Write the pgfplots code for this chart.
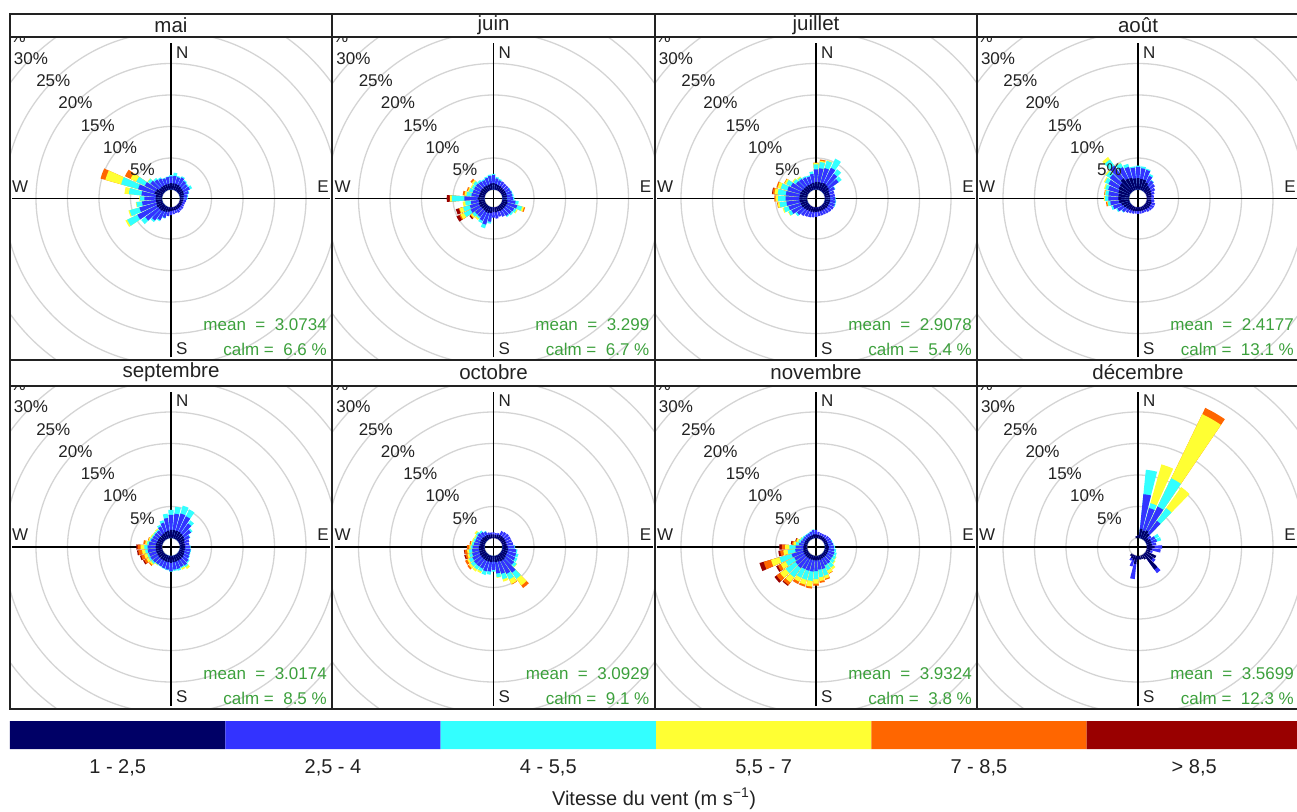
\documentclass[border=0pt]{standalone}
\usepackage{fontspec}
\setmainfont{Liberation Sans}
\usepackage{pgfplots}
\usepackage{pgfplotstable}
\pgfplotsset{compat=1.18}
\definecolor{c1}{RGB}{0,0,102}
\definecolor{c2}{RGB}{51,51,255}
\definecolor{c3}{RGB}{51,255,255}
\definecolor{c4}{RGB}{255,255,51}
\definecolor{c5}{RGB}{255,102,0}
\definecolor{c6}{RGB}{153,0,0}
\definecolor{gridc}{RGB}{212,212,212}
\definecolor{meangreen}{RGB}{60,160,60}
\definecolor{txt}{RGB}{34,34,34}
\newcommand\fA{\fontsize{17}{20}\selectfont}
\newcommand\fT{\fontsize{20.5}{24}\selectfont}
\newcommand\fL{\fontsize{20}{24}\selectfont}

% wedge-shaped mark: petal of a wind rose, drawn from the centre outwards
\pgfdeclareplotmark{petal}{%
  \pgfmathtruncatemacro\pok{(\pval>0.001)}%
  \ifnum\pok>0
    \pgfmathsetmacro\pa{90-\pdir-4.2}%
    \pgfmathsetmacro\pb{90-\pdir+4.2}%
    \pgfmathsetmacro\pr{9+6.3*\pcum}%
    \pgfpathmoveto{\pgfpointpolar{\pa}{9pt}}%
    \pgfpathlineto{\pgfpointpolar{\pa}{\pr pt}}%
    \pgfpatharc{\pa}{\pb}{\pr pt}%
    \pgfpathlineto{\pgfpointpolar{\pb}{9pt}}%
    \pgfpatharc{\pb}{\pa}{9pt}%
    \pgfpathclose
    \pgfusepathqfill
  \fi}

\pgfplotsset{
  rose/.style={scale only axis, width=322pt, height=323pt,
    xmin=-161, xmax=161, ymin=-161.5, ymax=161.5, hide axis, anchor=center, clip=true},
  petals/.style={scatter, only marks, mark=petal, point meta=\thisrow{d},
    visualization depends on={\thisrow{d}\as\pdir},
    scatter/@pre marker code/.code={\scope[fill=#1]},
    scatter/@post marker code/.code={\endscope}},
}

\newcommand\rose[1]{%
  \addplot[petals=c6,
    visualization depends on={\thisrow{n1}+\thisrow{n2}+\thisrow{n3}+\thisrow{n4}+\thisrow{n5}+\thisrow{n6}\as\pcum},
    visualization depends on={\thisrow{n6}\as\pval}] table[x expr=0,y expr=0]{#1};
  \addplot[petals=c5,
    visualization depends on={\thisrow{n1}+\thisrow{n2}+\thisrow{n3}+\thisrow{n4}+\thisrow{n5}\as\pcum},
    visualization depends on={\thisrow{n5}\as\pval}] table[x expr=0,y expr=0]{#1};
  \addplot[petals=c4,
    visualization depends on={\thisrow{n1}+\thisrow{n2}+\thisrow{n3}+\thisrow{n4}\as\pcum},
    visualization depends on={\thisrow{n4}\as\pval}] table[x expr=0,y expr=0]{#1};
  \addplot[petals=c3,
    visualization depends on={\thisrow{n1}+\thisrow{n2}+\thisrow{n3}\as\pcum},
    visualization depends on={\thisrow{n3}\as\pval}] table[x expr=0,y expr=0]{#1};
  \addplot[petals=c2,
    visualization depends on={\thisrow{n1}+\thisrow{n2}\as\pcum},
    visualization depends on={\thisrow{n2}\as\pval}] table[x expr=0,y expr=0]{#1};
  \addplot[petals=c1,
    visualization depends on={\thisrow{n1}\as\pcum},
    visualization depends on={\thisrow{n1}\as\pval}] table[x expr=0,y expr=0]{#1};
}

% #1 cx, #2 cy, #3 table, #4 mean, #5 calm
\newcommand\panel[5]{%
\begin{axis}[rose, at={(#1pt,#2pt)}]
  \draw[gridc, line width=1.3pt] (axis cs:0,0) circle[radius=9pt] circle[radius=40.5pt]
    circle[radius=72pt] circle[radius=103.5pt] circle[radius=135pt] circle[radius=166.5pt]
    circle[radius=198pt] circle[radius=229.5pt];
  \draw[black, line width=1.3pt] (axis cs:0,-159) -- (axis cs:0,155);
  \draw[black, line width=1.3pt] (axis cs:-159,0) -- (axis cs:159,0);
  \node[inner sep=0pt, text=txt, font=\fA] at (axis cs:-162.3,162.3) {35\%};
  \rose{#3}
\end{axis}
\begin{scope}[shift={(#1pt,#2pt)}, every node/.style={inner sep=0pt, text=txt, font=\fA}]
  \node at (-28.6pt,28.6pt) {5\%};
  \node at (-50.9pt,50.9pt) {10\%};
  \node at (-73.2pt,73.2pt) {15\%};
  \node at (-95.5pt,95.5pt) {20\%};
  \node at (-117.7pt,117.7pt) {25\%};
  \node at (-140.0pt,140.0pt) {30\%};
  \node[anchor=west] at (5pt,146pt) {N};
  \node[anchor=west] at (5pt,-150pt) {S};
  \node[anchor=east] at (158pt,12pt) {E};
  \node[anchor=west] at (-159pt,12pt) {W};
  \node[anchor=east, text=meangreen] at (156pt,-126.5pt) {mean\ \ =\ \ #4};
  \node[anchor=east, text=meangreen] at (156pt,-151pt) {calm =\ \ #5\ \%};
\end{scope}}

\pgfplotstableread{
d n1 n2 n3 n4 n5 n6
0 1.0 1.1 0.2 0 0 0
10 1.0 1.2 0.5 0 0 0
20 1.0 1.1 0.2 0 0 0
30 1.0 1.3 0.2 0 0 0
40 0.9 1.1 0.2 0 0 0
50 0.8 1.0 0.2 0 0 0
60 0.8 1.1 0.4 0 0 0
70 0.7 0.8 0.1 0 0 0
80 0.6 0.6 0.1 0 0 0
90 0.6 0.5 0.1 0 0 0
100 0.5 0.5 0 0 0 0
110 0.5 0.4 0 0 0 0
120 0.5 0.4 0 0 0 0
130 0.5 0.5 0 0 0 0
140 0.5 0.5 0 0 0 0
150 0.5 0.6 0 0 0 0
160 0.5 0.5 0 0 0 0
170 0.5 0.6 0 0 0 0
180 0.6 0.6 0 0 0 0
190 0.7 0.7 0 0 0 0
200 0.8 1.0 0.1 0 0 0
210 0.9 1.5 0.2 0 0 0
220 1.0 1.9 0.3 0 0 0
230 1.0 2.6 0.8 0 0 0
240 1.1 3.4 1.8 0.3 0 0
250 1.0 2.8 1.6 0.2 0 0
260 1.0 2.2 0.9 0.1 0 0
270 1.0 1.8 0.7 0.1 0 0
280 1.0 2.3 2.0 0.7 0 0
290 1.3 2.7 2.8 2.6 0.8 0
300 1.2 2.0 1.5 1.0 1.0 0
310 0.9 1.7 0.5 0.1 0 0
320 0.9 1.4 0.3 0 0 0
330 0.9 1.2 0.2 0 0 0
340 0.9 1.0 0.1 0 0 0
350 0.9 1.1 0.1 0 0 0
}\tmai

\pgfplotstableread{
d n1 n2 n3 n4 n5 n6
0 1.0 1.3 0.2 0 0 0
10 0.9 0.9 0.2 0 0 0
20 0.8 0.8 0.2 0 0 0
30 0.8 0.8 0 0 0 0
40 0.7 0.8 0 0 0 0
50 0.7 0.8 0 0 0 0
60 0.7 0.8 0.1 0 0 0
70 0.7 0.9 0.1 0 0 0
80 0.7 0.9 0.2 0 0 0
90 0.7 1.0 0.2 0 0 0
100 0.8 1.3 0.5 0 0 0
110 0.9 1.6 0.8 0.3 0.2 0
120 0.8 1.4 0.4 0.2 0 0
130 0.8 1.3 0.3 0 0 0
140 0.8 1.2 0.2 0 0 0
150 0.8 1.0 0 0 0 0
160 0.7 0.9 0 0 0 0
170 0.8 1.0 0 0 0 0
180 0.7 0.9 0 0 0 0
190 0.9 1.4 0.3 0 0 0
200 1.0 1.9 0.6 0 0 0
210 1.0 1.5 0.4 0 0 0
220 0.9 1.3 0.3 0.3 0 0
230 0.9 1.3 0.5 0.3 0.1 0.2
240 1.0 1.6 1.2 0.6 0.2 0.5
250 1.0 1.5 1.1 0.6 0.1 0.5
260 0.9 1.3 0.9 0.4 0 0
270 1.1 2.1 2.0 0.3 0 0.5
280 0.9 1.2 0.8 0.3 0.3 0
290 0.9 1.1 0.6 0.2 0.2 0
300 0.9 1.1 0.4 0.2 0 0
310 0.9 1.1 0.5 0.3 0.3 0
320 0.9 1.0 0.3 0 0 0
330 0.9 0.9 0.2 0 0 0
340 0.9 1.1 0.2 0 0 0
350 1.0 1.2 0.2 0 0 0
}\tjuin

\pgfplotstableread{
d n1 n2 n3 n4 n5 n6
0 1.2 2.0 0.8 0.2 0.1 0
10 1.2 2.2 1.0 0.2 0.2 0
20 1.2 2.4 1.2 0.1 0 0
30 1.3 2.7 1.6 0 0 0
40 1.2 2.2 0.9 0 0 0
50 1.1 1.9 0.6 0 0 0
60 0.9 1.0 0.1 0 0 0
70 0.8 0.8 0 0 0 0
80 0.8 0.8 0 0 0 0
90 0.8 0.8 0.1 0 0 0
100 0.8 0.9 0.1 0 0 0
110 0.8 0.9 0.1 0 0 0
120 0.8 0.9 0 0 0 0
130 0.8 0.8 0 0 0 0
140 0.7 0.8 0 0 0 0
150 0.7 0.7 0 0 0 0
160 0.7 0.7 0 0 0 0
170 0.7 0.7 0 0 0 0
180 0.7 0.8 0 0 0 0
190 0.8 0.8 0 0 0 0
200 0.8 0.9 0 0 0 0
210 0.8 1.0 0 0 0 0
220 0.9 1.1 0 0 0 0
230 1.0 1.3 0.3 0 0 0
240 1.1 1.8 0.5 0.1 0 0
250 1.1 2.0 0.8 0.2 0 0
260 1.2 2.1 1.1 0.3 0.1 0
270 1.2 2.2 1.2 0.4 0.2 0
280 1.2 2.2 1.3 0.5 0.3 0.1
290 1.2 2.1 1.1 0.5 0.2 0
300 1.1 1.9 0.8 0.3 0.1 0
310 1.0 1.5 0.5 0.2 0 0
320 1.0 1.4 0.3 0.2 0 0
330 1.0 1.3 0.2 0 0 0
340 1.0 1.2 0.2 0 0 0
350 1.1 1.4 0.4 0 0 0
}\tjuil

\pgfplotstableread{
d n1 n2 n3 n4 n5 n6
0 1.8 1.8 0.2 0 0 0
10 1.7 1.7 0.3 0 0 0
20 1.7 1.6 0.2 0 0 0
30 1.4 1.2 0.3 0 0 0
40 1.1 1.0 0.1 0 0 0
50 1.0 0.9 0 0 0 0
60 0.9 0.7 0 0 0 0
70 0.8 0.5 0 0 0 0
80 0.7 0.4 0 0 0 0
90 0.7 0.4 0 0 0 0
100 0.7 0.5 0 0 0 0
110 0.8 0.6 0 0 0 0
120 0.8 0.6 0 0 0 0
130 0.8 0.5 0 0 0 0
140 0.7 0.5 0 0 0 0
150 0.6 0.4 0 0 0 0
160 0.6 0.4 0 0 0 0
170 0.6 0.4 0 0 0 0
180 0.6 0.4 0 0 0 0
190 0.6 0.4 0 0 0 0
200 0.7 0.4 0 0 0 0
210 0.7 0.5 0 0 0 0
220 0.8 0.6 0 0 0 0
230 0.9 0.8 0.1 0 0 0
240 1.1 1.1 0.2 0 0 0
250 1.3 1.4 0.3 0 0 0
260 1.6 1.4 0.4 0.1 0.2 0
270 1.7 1.6 0.5 0.2 0 0
280 1.7 1.6 0.5 0.1 0.1 0
290 1.8 1.7 0.5 0.2 0 0
300 2.0 1.8 0.6 0.2 0 0
310 2.1 2.0 0.7 0.2 0 0
320 2.5 2.5 1.2 0.5 0 0
330 2.1 2.0 0.7 0.1 0 0
340 2.0 1.8 0.5 0 0 0
350 1.8 1.7 0.2 0 0 0
}\taout

\pgfplotstableread{
d n1 n2 n3 n4 n5 n6
0 1.3 2.4 0.8 0 0 0
10 1.3 2.6 1.1 0 0 0
20 1.3 2.8 1.3 0 0 0
30 1.3 2.7 1.2 0 0 0
40 1.2 2.0 0.6 0 0 0
50 1.1 1.4 0.3 0 0 0
60 1.0 0.9 0.1 0 0 0
70 0.8 0.8 0 0 0 0
80 0.8 0.7 0 0 0 0
90 0.8 0.8 0.1 0 0 0
100 0.8 0.9 0.1 0 0 0
110 0.8 0.9 0.1 0 0 0
120 0.9 0.9 0.1 0 0 0
130 1.0 1.0 0.2 0 0 0
140 1.0 1.2 0.3 0.4 0 0
150 1.0 1.1 0.2 0.3 0 0
160 1.0 1.2 0.3 0 0 0
170 1.0 1.2 0.2 0 0 0
180 1.1 1.3 0.1 0 0 0
190 1.0 1.2 0.1 0 0 0
200 1.0 1.1 0.1 0 0 0
210 1.0 1.0 0.1 0 0 0
220 1.0 1.0 0.1 0.1 0 0
230 1.0 1.1 0.3 0.3 0.2 0
240 1.0 1.2 0.3 0.4 0.4 0.2
250 1.0 1.2 0.3 0.5 0.5 0.2
260 1.0 1.3 0.4 0.5 0.6 0.2
270 1.0 1.3 0.5 0.6 0.5 0.2
280 1.0 1.1 0.3 0.3 0.3 0
290 0.9 1.0 0.2 0.2 0.1 0
300 0.9 0.9 0.2 0.2 0 0
310 0.9 0.9 0.2 0.1 0 0
320 0.9 0.9 0.2 0.2 0 0
330 1.0 1.2 0.3 0 0 0
340 1.1 1.5 0.4 0 0 0
350 1.2 2.0 0.7 0 0 0
}\tsep

\pgfplotstableread{
d n1 n2 n3 n4 n5 n6
0 0.6 0.3 0 0 0 0
10 0.5 0.3 0 0 0 0
20 0.6 0.3 0 0 0 0
30 0.7 0.7 0 0 0 0
40 0.7 0.8 0 0 0 0
50 0.7 0.9 0 0 0 0
60 0.7 0.9 0 0 0 0
70 0.7 0.9 0 0 0 0
80 0.7 1.0 0 0 0 0
90 0.8 1.1 0.1 0 0 0
100 0.9 1.3 0.2 0 0 0
110 0.9 1.4 0.4 0 0 0
120 0.9 1.5 0.4 0 0 0
130 1.0 1.6 0.5 0.1 0 0
140 1.1 2.5 1.2 1.3 0.5 0
150 1.1 2.2 1.0 0.8 0.1 0
160 1.0 2.0 0.9 0.4 0 0
170 1.0 1.8 0.6 0.1 0 0
180 0.9 1.3 0.3 0 0 0
190 1.0 1.5 0.5 0 0 0
200 1.0 1.6 0.6 0 0 0
210 1.0 1.4 0.5 0.3 0 0
220 1.0 1.4 0.6 0.4 0 0
230 1.0 1.4 0.6 0.4 0.3 0
240 1.0 1.3 0.6 0.3 0.4 0
250 0.9 1.2 0.5 0.3 0.3 0.2
260 0.9 1.1 0.5 0.3 0.4 0.1
270 0.9 1.0 0.3 0.2 0.4 0
280 0.8 0.9 0.3 0.2 0.2 0
290 0.8 0.8 0.3 0.2 0 0
300 0.8 0.8 0.2 0.2 0 0
310 0.8 0.9 0.3 0.3 0 0
320 0.7 0.8 0.3 0 0 0
330 0.7 0.6 0.1 0 0 0
340 0.6 0.4 0 0 0 0
350 0.6 0.3 0 0 0 0
}\toct

\pgfplotstableread{
d n1 n2 n3 n4 n5 n6
0 0.6 0.7 0 0 0 0
10 0.5 0.5 0 0 0 0
20 0.5 0.4 0 0 0 0
30 0.5 0.4 0 0 0 0
40 0.5 0.5 0 0 0 0
50 0.5 0.6 0 0 0 0
60 0.5 0.7 0 0 0 0
70 0.5 0.7 0.1 0 0 0
80 0.5 0.8 0.1 0 0 0
90 0.6 0.8 0.2 0 0 0
100 0.6 0.9 0.3 0 0 0
110 0.6 1.0 0.4 0 0 0
120 0.6 1.0 0.5 0.1 0 0
130 0.6 1.0 0.6 0.2 0 0
140 0.6 1.2 0.8 0.4 0 0
150 0.6 1.2 0.9 0.5 0.1 0
160 0.7 1.5 1.1 0.5 0.2 0
170 0.7 1.5 1.2 0.6 0.3 0
180 0.7 1.7 1.3 0.7 0.3 0
190 0.7 1.8 1.5 0.9 0.3 0
200 0.7 1.8 1.5 0.8 0.3 0
210 0.7 1.8 1.5 0.7 0.4 0
220 0.7 2.0 1.8 1.0 0.5 0.2
230 0.7 1.9 1.9 1.1 0.7 0.4
240 0.7 1.7 1.5 0.9 0.5 0.3
250 0.7 1.9 2.0 1.4 1.2 0.7
260 0.6 1.3 1.2 0.7 0.5 0.3
270 0.6 1.2 1.0 0.7 0.5 0.4
280 0.5 0.8 0.5 0.4 0.2 0.2
290 0.5 0.6 0.4 0.3 0.1 0.1
300 0.5 0.5 0.3 0.1 0 0
310 0.5 0.5 0.2 0 0 0
320 0.5 0.5 0.1 0 0 0
330 0.5 0.5 0.1 0 0 0
340 0.5 0.6 0.1 0 0 0
350 0.6 0.7 0.1 0 0 0
}\tnov

\pgfplotstableread{
d n1 n2 n3 n4 n5 n6
0 0.5 0 0 0 0 0
10 1.5 5.5 3.9 0 0 0
20 1.3 3.7 0.8 6.4 0 0
30 1.5 4.2 5.0 11.3 1.1 0
40 1.2 2.5 2.5 4.1 0 0
50 0.6 0.6 0 0 0 0
60 0.8 0.8 0.7 0 0 0
70 0.8 0.9 0.7 0 0 0
80 0.8 0.7 0 0 0 0
90 1.2 1.2 0 0 0 0
100 0.8 1.4 0 0 0 0
110 0.6 0.4 0 0 0 0
120 1.8 0 0 0 0 0
130 1.5 0.5 0 0 0 0
140 3.0 0.7 0 0 0 0
150 0.8 0 0 0 0 0
160 0.6 0 0 0 0 0
170 0.6 0 0 0 0 0
180 0.6 0 0 0 0 0
190 1.3 2.4 0 0 0 0
200 0.8 1.0 0 0 0 0
210 0.6 0.4 0 0 0 0
220 0.4 0 0 0 0 0
350 0.3 0 0 0 0 0
}\tdec

\begin{document}
\begin{tikzpicture}

% colour key: one axis unit = 1pt
\begin{axis}[rose, width=1292pt, height=28pt, at={(656pt,76pt)},
  xmin=-646, xmax=646, ymin=-14, ymax=14]
  \addplot[fill=c1, draw=none] coordinates {(-646,-14) (-430.67,-14) (-430.67,14) (-646,14) (-646,-14)};
  \addplot[fill=c2, draw=none] coordinates {(-430.67,-14) (-215.33,-14) (-215.33,14) (-430.67,14) (-430.67,-14)};
  \addplot[fill=c3, draw=none] coordinates {(-215.33,-14) (0,-14) (0,14) (-215.33,14) (-215.33,-14)};
  \addplot[fill=c4, draw=none] coordinates {(0,-14) (215.33,-14) (215.33,14) (0,14) (0,-14)};
  \addplot[fill=c5, draw=none] coordinates {(215.33,-14) (430.67,-14) (430.67,14) (215.33,14) (215.33,-14)};
  \addplot[fill=c6, draw=none] coordinates {(430.67,-14) (646,-14) (646,14) (430.67,14) (430.67,-14)};
\end{axis}

\panel{171}{612.5}{\tmai}{3.0734}{6.6}
\panel{493.5}{612.5}{\tjuin}{3.299}{6.7}
\panel{816}{612.5}{\tjuil}{2.9078}{5.4}
\panel{1138}{612.5}{\taout}{2.4177}{13.1}
\panel{171}{264}{\tsep}{3.0174}{8.5}
\panel{493.5}{264}{\toct}{3.0929}{9.1}
\panel{816}{264}{\tnov}{3.9324}{3.8}
\panel{1138}{264}{\tdec}{3.5699}{12.3}

% frames and title strips
\begin{scope}[x=1pt, y=1pt, draw=txt, line width=1.2pt]
  \foreach \xl/\xr in {10/332, 332/655, 655/977, 977/1299}{
    \draw (\xl,774) rectangle (\xr,797);
    \draw (\xl,451) rectangle (\xr,774);
    \draw (\xl,425) rectangle (\xr,451);
    \draw (\xl,102) rectangle (\xr,425);
  }
\end{scope}
\begin{scope}[x=1pt, y=1pt, every node/.style={font=\fT, text=txt, inner sep=0pt}]
  \node at (171,786) {mai};
  \node at (493.5,786) {juin};
  \node at (816,786) {juillet};
  \node at (1138,786) {août};
  \node at (171,438.5) {septembre};
  \node at (493.5,438.5) {octobre};
  \node at (816,438.5) {novembre};
  \node at (1138,438.5) {décembre};
\end{scope}
\begin{scope}[x=1pt, y=1pt, every node/.style={font=\fL, text=txt, inner sep=0pt}]
  \node at (117.7,43) {1 - 2,5};
  \node at (333,43) {2,5 - 4};
  \node at (548.3,43) {4 - 5,5};
  \node at (763.6,43) {5,5 - 7};
  \node at (978.9,43) {7 - 8,5};
  \node at (1194.2,43) {> 8,5};
  \node at (654,12) {Vitesse du vent (m s\textsuperscript{−1})};
\end{scope}
\pgfresetboundingbox
\useasboundingbox (0pt,0pt) rectangle (1297pt,811pt);
\end{tikzpicture}
\end{document}
